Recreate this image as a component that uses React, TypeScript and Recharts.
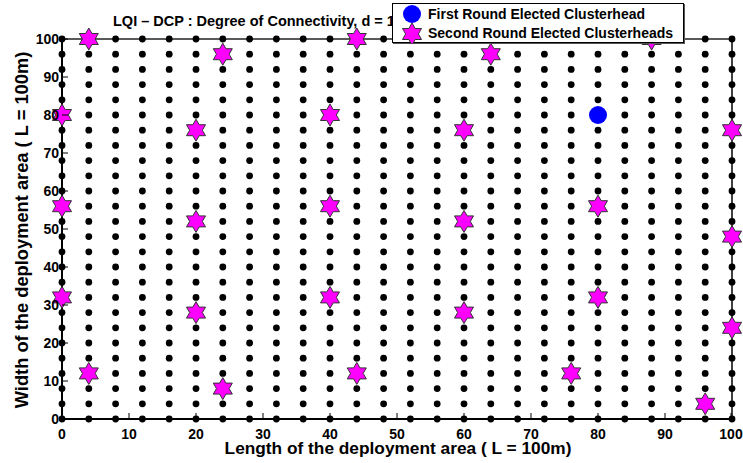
import React from 'react';
import { ScatterChart, Scatter, XAxis, YAxis, Legend } from 'recharts';

// node positions on both axes (m)
const nodePositions = [0, 4, 8, 12, 16, 20, 24, 28, 32, 36, 40, 44, 48, 52, 56, 60, 64, 68, 72, 76, 80, 84, 88, 92, 96, 100];

const firstRoundX = [80];
const firstRoundY = [80];

const secondRoundX = [4, 24, 44, 64, 88, 0, 20, 40, 60, 100, 0, 20, 40, 60, 80, 100, 0, 20, 40, 60, 80, 100, 4, 24, 44, 76, 96];
const secondRoundY = [100, 96, 100, 96, 100, 80, 76, 80, 76, 76, 56, 52, 56, 52, 56, 48, 32, 28, 32, 28, 32, 24, 12, 8, 12, 12, 4];

const axisTicks = [0, 10, 20, 30, 40, 50, 60, 70, 80, 90, 100];

const nodes = nodePositions.flatMap((x) => nodePositions.map((y) => ({ x, y })));
const firstRound = firstRoundX.map((x, i) => ({ x, y: firstRoundY[i] }));
const secondRound = secondRoundX.map((x, i) => ({ x, y: secondRoundY[i] }));

const FONT = '"Liberation Sans", Arial, Helvetica, sans-serif';

const hexagram = (cx: number, cy: number, R: number) => {
  const r = R / Math.sqrt(3);
  const pts: string[] = [];
  for (let k = 0; k < 12; k++) {
    const ang = ((-90 + k * 30) * Math.PI) / 180;
    const rad = k % 2 === 0 ? R : r;
    pts.push(`${cx + rad * Math.cos(ang)},${cy + rad * Math.sin(ang)}`);
  }
  return pts.join(' ');
};

const NodeDot = (props: any) => <circle cx={props.cx} cy={props.cy} r={3.4} fill="#000" />;
const BlueDot = (props: any) => <circle cx={props.cx} cy={props.cy} r={9} fill="#0000ff" />;
const Star = (props: any) => (
  <polygon points={hexagram(props.cx, props.cy, 11)} fill="#ff00ff" stroke="#333" strokeWidth={1} />
);

const tickText = { fontFamily: FONT, fontSize: 14, fontWeight: 'bold' as const, fill: '#000' };

const BottomTick = ({ x, y, payload }: any) => (
  <g>
    <line x1={x} y1={y} x2={x} y2={y - 6} stroke="#000" />
    <text x={x} y={y + 20} textAnchor="middle" {...tickText}>{payload.value}</text>
  </g>
);
const TopTick = ({ x, y }: any) => <line x1={x} y1={y} x2={x} y2={y + 6} stroke="#000" />;
const LeftTick = ({ x, y, payload }: any) => (
  <g>
    <line x1={x} y1={y} x2={x + 6} y2={y} stroke="#000" />
    <text x={x - 3} y={y + 5} textAnchor="end" {...tickText}>{payload.value}</text>
  </g>
);
const RightTick = ({ x, y }: any) => <line x1={x} y1={y} x2={x - 6} y2={y} stroke="#000" />;

const LegendBox = () => (
  <div
    style={{
      width: 290,
      height: 38,
      background: '#fff',
      border: '1px solid #000',
      boxShadow: '1px 1px 0 #555',
      fontFamily: FONT,
      fontSize: 14,
      fontWeight: 'bold',
      color: '#000',
      position: 'relative',
    }}
  >
    <svg width={40} height={40} style={{ position: 'absolute', left: 0, top: 0 }}>
      <circle cx={19} cy={10} r={9} fill="#0000ff" />
      <polygon points={hexagram(19, 30, 11)} fill="#ff00ff" stroke="#333" strokeWidth={1} />
    </svg>
    <div style={{ position: 'absolute', left: 35, top: 2, lineHeight: '16px' }}>First Round Elected Clusterhead</div>
    <div style={{ position: 'absolute', left: 35, top: 21, lineHeight: '16px' }}>Second Round Elected Clusterheads</div>
  </div>
);

export default function App() {
  return (
    <div style={{ position: 'absolute', left: 0, top: 0, background: '#fff' }}>
      <ScatterChart width={743} height={463} margin={{ top: 38, right: 10, bottom: 43, left: 61 }}>
        <text x={113} y={26} fontFamily={FONT} fontSize={14.5} fontWeight="bold" fill="#000">
          LQI – DCP : Degree of Connectivity, d = 1
        </text>
        <XAxis xAxisId="b" type="number" dataKey="x" domain={[0, 100]} ticks={axisTicks} height={1}
          tickSize={0} tickMargin={0} tickLine={false} tick={<BottomTick />}
          axisLine={{ stroke: '#000', strokeWidth: 2 }} />
        <XAxis xAxisId="t" orientation="top" type="number" dataKey="x" domain={[0, 100]} ticks={axisTicks} height={1}
          tickSize={0} tickMargin={0} tickLine={false} tick={<TopTick />}
          axisLine={{ stroke: '#222', strokeWidth: 1.5 }} />
        <YAxis yAxisId="l" type="number" dataKey="y" domain={[0, 100]} ticks={axisTicks} width={1}
          tickSize={0} tickMargin={0} tickLine={false} tick={<LeftTick />}
          axisLine={{ stroke: '#000', strokeWidth: 2 }} />
        <YAxis yAxisId="r" orientation="right" type="number" dataKey="y" domain={[0, 100]} ticks={axisTicks} width={1}
          tickSize={0} tickMargin={0} tickLine={false} tick={<RightTick />}
          axisLine={{ stroke: '#000', strokeWidth: 1.5 }} />
        <Scatter xAxisId="t" yAxisId="r" data={[]} isAnimationActive={false} legendType="none" />
        <Scatter xAxisId="b" yAxisId="l" data={nodes} shape={NodeDot} isAnimationActive={false} legendType="none" />
        <Scatter xAxisId="b" yAxisId="l" name="First Round Elected Clusterhead" data={firstRound} shape={BlueDot} isAnimationActive={false} />
        <Scatter xAxisId="b" yAxisId="l" name="Second Round Elected Clusterheads" data={secondRound} shape={Star} isAnimationActive={false} />
        <text transform="translate(28,230) rotate(-90)" textAnchor="middle" fontFamily={FONT} fontSize={18.3} fontWeight="bold" fill="#000">
          Width of the deployment area ( L = 100m)
        </text>
        <text x={398} y={454} textAnchor="middle" fontFamily={FONT} fontSize={17.3} fontWeight="bold" fill="#000">
          Length of the deployment area ( L = 100m)
        </text>
        <Legend layout="vertical" align="center" verticalAlign="middle" content={<LegendBox />}
          wrapperStyle={{ position: 'absolute', left: 392, top: 3, width: 292, height: 40 }} />
      </ScatterChart>
    </div>
  );
}
